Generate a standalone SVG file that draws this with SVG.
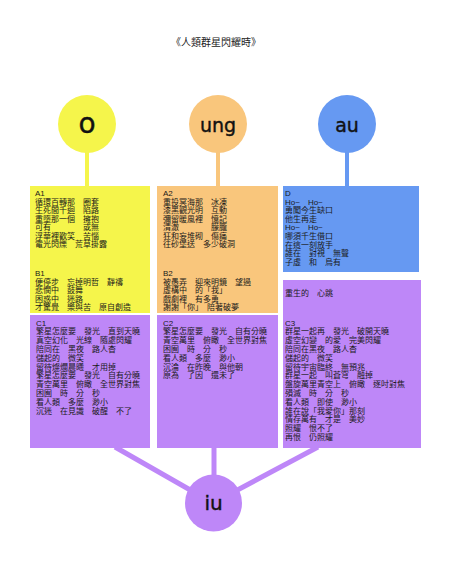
<svg xmlns="http://www.w3.org/2000/svg" width="450" height="563" viewBox="0 0 450 563">
<style>
.t{font-family:'Liberation Sans','Noto Sans CJK TC',sans-serif;font-size:8px;fill:#1a1a1a}
.title{font-family:'Liberation Sans','Noto Sans CJK TC',sans-serif;font-size:10px;fill:#222;text-anchor:middle}
.c{font-family:'DejaVu Sans','Noto Sans',sans-serif;font-size:19px;fill:#111;text-anchor:middle;stroke:#111;stroke-width:0.4}
.y{fill:#F5F54B}
.o{fill:#F9C67C}
.b{fill:#6699F2}
.p{fill:#BE87F8}
.ly{stroke:#F5F54B;stroke-width:4;fill:none}
.lo{stroke:#F9C67C;stroke-width:4;fill:none}
.lb{stroke:#6699F2;stroke-width:4;fill:none}
.lp{stroke:#BE87F8;stroke-width:5;fill:none}
</style>
<rect width="450" height="563" fill="#ffffff"/>
<text class="title" x="216" y="46">《人類群星閃耀時》</text>

<g id="connectors">
<line class="ly" x1="87" y1="150" x2="87" y2="187"/>
<line class="lo" x1="218" y1="150" x2="218" y2="187"/>
<line class="lb" x1="347" y1="150" x2="347" y2="187"/>
<line class="lp" x1="115" y1="447" x2="213" y2="503"/>
<line class="lp" x1="214" y1="447" x2="214" y2="503"/>
<line class="lp" x1="318" y1="447" x2="213" y2="503"/>
</g>

<g id="node-o">
<circle class="y" cx="87" cy="124" r="29"/>
<text class="c" x="87" y="133" style="font-size:28px">o</text>
</g>
<g id="node-ung">
<circle class="o" cx="218" cy="124" r="29"/>
<text class="c" x="218" y="132">ung</text>
</g>
<g id="node-au">
<circle class="b" cx="347" cy="124" r="29"/>
<text class="c" x="347" y="132">au</text>
</g>
<g id="node-iu">
<circle class="p" cx="213.5" cy="503" r="28.5"/>
<text class="c" x="213.5" y="510" style="font-size:20px">iu</text>
</g>

<g id="node-A1B1">
<rect class="y" x="30" y="186" width="120" height="127"/>
<text class="t" x="35" y="196">A1</text>
<text class="t" x="35" y="204.5">循環百轉那　圈套</text>
<text class="t" x="35" y="213">生死間千迴　陷路</text>
<text class="t" x="35" y="221.5">重墮那一個　擁抱</text>
<text class="t" x="35" y="230">可有　　　　或無</text>
<text class="t" x="35" y="238.5">浮華裡歡笑　苦惱</text>
<text class="t" x="35" y="247">電光閃爍　荒草掛露</text>
<text class="t" x="35" y="276">B1</text>
<text class="t" x="35" y="284.5">便停步　忘掉明哲　靜禱</text>
<text class="t" x="35" y="293">悲憫中　鼓舞</text>
<text class="t" x="35" y="301.5">困惑中　迷路</text>
<text class="t" x="35" y="310">才驚覺　樂與苦　原自創造</text>
</g>

<g id="node-A2B2">
<rect class="o" x="157" y="186" width="121" height="127"/>
<text class="t" x="163" y="196">A2</text>
<text class="t" x="163" y="204.5">重投冥海那　冰凍</text>
<text class="t" x="163" y="213">漆黑觀光明　互動</text>
<text class="t" x="163" y="221.5">彌留暖風裡　憶記</text>
<text class="t" x="163" y="230">清澈　　　　朦朧</text>
<text class="t" x="163" y="238.5">狂和妄堆砌　傷痛</text>
<text class="t" x="163" y="247">往砂堡送　多少破洞</text>
<text class="t" x="163" y="276">B2</text>
<text class="t" x="163" y="284.5">被愚弄　迎來明鏡　望過</text>
<text class="t" x="163" y="293">虛構中　的「我」</text>
<text class="t" x="163" y="301.5">戲劇裡　有多勇</text>
<text class="t" x="163" y="310">謝謝「你」　陪著破夢</text>
</g>

<g id="node-D">
<rect class="b" x="283" y="186" width="136" height="86"/>
<text class="t" x="285" y="196">D</text>
<text class="t" x="285" y="204.6">Ho~　Ho~</text>
<text class="t" x="285" y="213.2">勇闖今生缺口</text>
<text class="t" x="285" y="221.8">他生再走</text>
<text class="t" x="285" y="230.4">Ho~　Ho~</text>
<text class="t" x="285" y="239">哪須千生借口</text>
<text class="t" x="285" y="247.6">在這一刻放手</text>
<text class="t" x="285" y="256.2">誰在　對視　無聲</text>
<text class="t" x="285" y="264.8">子虛　和　烏有</text>
</g>

<g id="node-C1">
<rect class="p" x="30" y="315" width="120" height="133"/>
<text class="t" x="36" y="325.5">C1</text>
<text class="t" x="36" y="334.3">繁星怎麼要　發光　直到天曉</text>
<text class="t" x="36" y="343.1">真空幻化　光線　隨處閃耀</text>
<text class="t" x="36" y="351.9">陪同在　黑夜　路人杳</text>
<text class="t" x="36" y="360.7">儲起的　微笑</text>
<text class="t" x="36" y="369.5">留待燦爛晨曦　才用掉</text>
<text class="t" x="36" y="378.3">繁星怎麼要　發光　自有分曉</text>
<text class="t" x="36" y="387.1">青空萬里　俯瞰　全世界對焦</text>
<text class="t" x="36" y="395.9">困囿　時　分　秒</text>
<text class="t" x="36" y="404.7">看人類　多麼　渺小</text>
<text class="t" x="36" y="413.5">沉迷　在見識　破醒　不了</text>
</g>

<g id="node-C2">
<rect class="p" x="157" y="315" width="121" height="133"/>
<text class="t" x="163" y="325.5">C2</text>
<text class="t" x="163" y="334.3">繁星怎麼要　發光　自有分曉</text>
<text class="t" x="163" y="343.1">青空萬里　俯瞰　全世界對焦</text>
<text class="t" x="163" y="351.9">困囿　時　分　秒</text>
<text class="t" x="163" y="360.7">看人類　多麼　渺小</text>
<text class="t" x="163" y="369.5">沉淪　在昨晚　與他朝</text>
<text class="t" x="163" y="378.3">原為　了因　還未了</text>
</g>

<g id="node-C3">
<rect class="p" x="283" y="280" width="138" height="168"/>
<text class="t" x="285" y="296">重生的　心跳</text>
<text class="t" x="285" y="325.5">C3</text>
<text class="t" x="285" y="334.3">群星一起再　發光　破開天曉</text>
<text class="t" x="285" y="343.1">虛空幻變　的愛　完美閃耀</text>
<text class="t" x="285" y="351.9">陪同在黑夜　路人杳</text>
<text class="t" x="285" y="360.7">儲起的　微笑</text>
<text class="t" x="285" y="369.5">留待宇宙臨終　無預兆</text>
<text class="t" x="285" y="378.3">群星一起　叫蒼穹　融掉</text>
<text class="t" x="285" y="387.1">盤旋萬里青空上　俯瞰　逐吋對焦</text>
<text class="t" x="285" y="395.9">殞滅　時　分　秒</text>
<text class="t" x="285" y="404.7">看人類　即使　渺小</text>
<text class="t" x="285" y="413.5">誰在說「我愛你」那刻</text>
<text class="t" x="285" y="422.3">情存萬有　才是　美妙</text>
<text class="t" x="285" y="431.1">照耀　恨不了</text>
<text class="t" x="285" y="439.9">再恨　仍照耀</text>
</g>
</svg>
